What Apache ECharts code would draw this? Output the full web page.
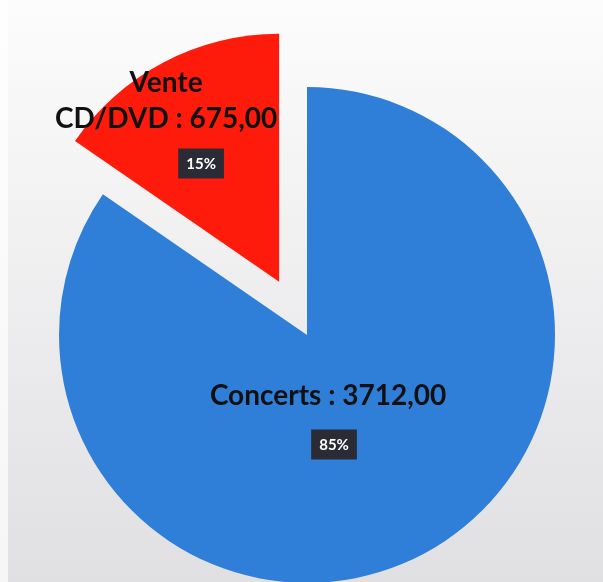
<!DOCTYPE html>
<html>
<head>
<meta charset="utf-8">
<script src="https://cdn.jsdelivr.net/npm/echarts@6/dist/echarts.min.js"></script>
<style>html,body{margin:0;padding:0;}#c{width:603px;height:582px;}</style>
</head>
<body>
<div id="c"></div>
<script>
var categories = ['Concerts', 'Vente CD/DVD'];
var values = [3712, 675];
var sliceColors = ['#2f7fd9', '#fe1b0c'];
var labelOffsets = [[-38, -21], [-54, -42]];
var pctShift = [12, 70];
var pctLineHeight = [60, 52];

function fmt(v) { return v.toFixed(2).replace('.', ','); }

function richFor(i) {
  return {
    name: {fontFamily: 'Lato', fontWeight: 'bold', fontSize: 28, color: '#111', lineHeight: 36},
    sp: {width: pctShift[i], lineHeight: pctLineHeight[i]},
    pct: {fontFamily: 'Lato', fontWeight: 'bold', fontSize: 15, color: '#fff',
          backgroundColor: '#2b2b36', padding: [8, 8, 7, 8], lineHeight: pctLineHeight[i]}
  };
}

var chart = echarts.init(document.getElementById('c'));
chart.setOption({
  animation: false,
  backgroundColor: {
    type: 'linear', x: 0, y: 0, x2: 0, y2: 1,
    colorStops: [{offset: 0, color: '#fcfcfc'}, {offset: 1, color: '#e0e0e3'}]
  },
  graphic: [{
    type: 'rect', left: 0, top: 0, z: -1,
    shape: {width: 8, height: 582},
    style: {fill: 'rgba(255,255,255,0.7)'}
  }],
  series: [{
    type: 'pie',
    center: [307, 335],
    radius: 248,
    startAngle: 90,
    clockwise: true,
    selectedMode: 'single',
    selectedOffset: 60,
    emphasis: {disabled: true},
    label: {
      show: true,
      position: 'inner',
      formatter: function (p) {
        var n = p.name;
        var lines;
        if (n.indexOf(' ') > 0) {
          var i = n.indexOf(' ');
          lines = '{name|' + n.slice(0, i) + '}\n{name|' + n.slice(i + 1) + ' : ' + fmt(p.value) + '}';
        } else {
          lines = '{name|' + n + ' : ' + fmt(p.value) + '}';
        }
        return lines + '\n{sp|}{pct|' + Math.round(p.percent) + '%}';
      }
    },
    labelLine: {show: false},
    data: categories.map(function (c, i) {
      return {
        name: c,
        value: values[i],
        selected: i === 1,
        itemStyle: {color: sliceColors[i]},
        label: {offset: labelOffsets[i], rich: richFor(i)},
        select: {label: {offset: labelOffsets[i], rich: richFor(i)}}
      };
    })
  }]
});
</script>
</body>
</html>
